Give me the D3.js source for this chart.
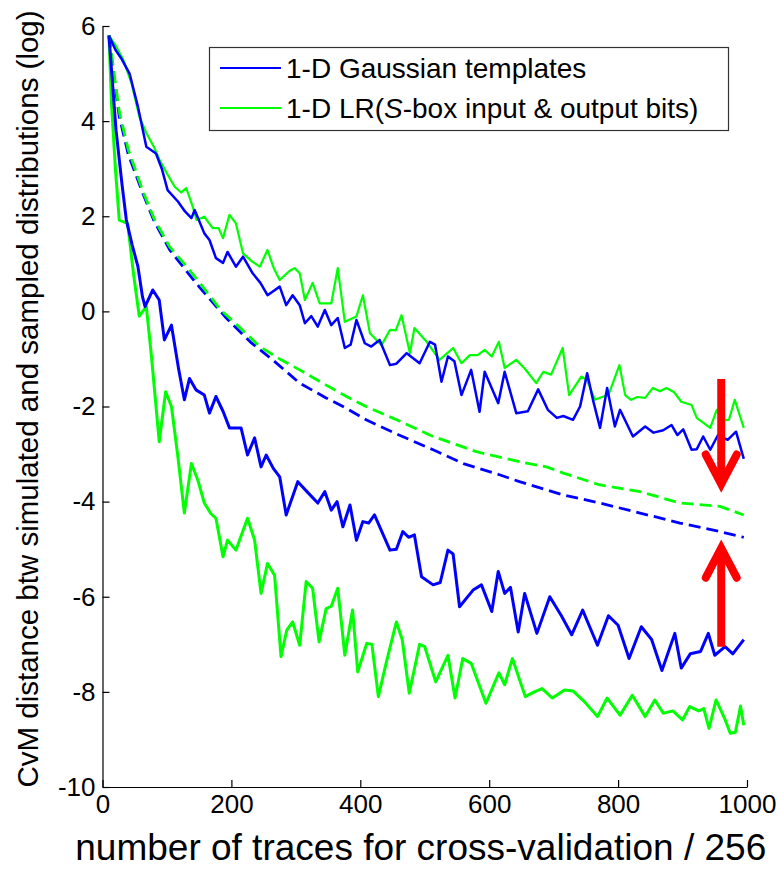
<!DOCTYPE html>
<html>
<head>
<meta charset="utf-8">
<script src="https://cdnjs.cloudflare.com/ajax/libs/d3/7.8.5/d3.min.js"></script>
<style>
   body { margin: 0; background: #fff; }
   svg { display: block; font-family: "Liberation Sans", Arial, Helvetica, sans-serif; }
</style>
</head>
<body>
<svg width="778" height="869"></svg>
<script>
// tick labels
var xTicks = [0, 200, 400, 600, 800, 1000];
var yTicks = [-10, -8, -6, -4, -2, 0, 2, 4, 6];

// [traces/256, log CvM distance]
var gaussUpper = [[10,5.8],[20,5.5],[30,5.3],[42,5.0],[55,4.3],[68,3.46],[83,3.32],[92,3.0],[101,2.55],[117,2.31],[128,2.1],[138,1.96],[143,2.13],[158,1.64],[166,1.5],[176,1.12],[187,1.02],[194,1.25],[207,0.94],[218,1.15],[233,0.8],[245,0.6],[256,0.34],[275,0.52],[285,0.13],[295,0.34],[306,0.13],[314,-0.25],[324,-0.1],[334,-0.32],[345,0.03],[355,-0.29],[365,-0.14],[376,-0.77],[385,-0.7],[394,-0.18],[407,-0.67],[417,-0.74],[430,-0.6],[446,-1.13],[456,-1.1],[472,-0.88],[492,-1.09],[508,-0.64],[516,-0.7],[526,-1.48],[536,-0.95],[546,-1.05],[557,-1.76],[572,-1.23],[585,-2.11],[593,-1.27],[614,-1.93],[624,-1.27],[642,-2.14],[660,-2.1],[676,-1.64],[691,-2.07],[705,-2.24],[715,-2.2],[730,-2.28],[741,-2.0],[752,-1.3],[761,-1.86],[772,-2.45],[783,-1.61],[795,-2.42],[803,-2.07],[823,-2.63],[842,-2.42],[855,-2.55],[870,-2.5],[883,-2.39],[892,-2.6],[901,-2.48],[914,-2.91],[922,-2.9],[932,-2.63],[943,-2.91],[955,-2.6],[970,-2.7],[983,-2.53],[995,-3.1]];
var gaussLower = [[10,5.8],[21,3.81],[30,2.7],[37,1.92],[46,1.4],[55,0.94],[62,0.31],[66,0.1],[78,0.45],[88,0.24],[96,-0.6],[107,-0.29],[118,-1.2],[127,-1.86],[135,-1.41],[145,-1.65],[158,-1.76],[166,-2.14],[176,-1.79],[187,-2.1],[197,-2.45],[215,-2.45],[225,-3.02],[236,-2.66],[246,-3.27],[254,-3.02],[265,-3.3],[275,-3.48],[285,-4.28],[303,-3.58],[318,-3.8],[334,-4.03],[345,-3.79],[355,-4.18],[364,-4.0],[373,-4.53],[384,-4.07],[394,-4.81],[404,-4.42],[413,-4.45],[422,-4.28],[446,-5.02],[456,-5.0],[466,-4.63],[475,-4.75],[484,-4.7],[495,-5.58],[513,-5.75],[524,-5.7],[536,-5.02],[544,-5.1],[554,-6.21],[575,-5.86],[588,-5.75],[604,-6.31],[614,-5.47],[624,-5.93],[633,-5.8],[645,-6.74],[655,-5.93],[674,-6.77],[694,-6.0],[712,-6.4],[728,-6.8],[745,-6.28],[768,-7.02],[785,-6.4],[800,-6.6],[817,-7.3],[836,-6.63],[852,-6.9],[868,-7.55],[888,-6.77],[898,-7.5],[912,-7.2],[928,-7.15],[940,-6.77],[950,-7.23],[966,-7.05],[978,-7.2],[995,-6.9]];
var gaussMean = [[10,5.8],[18,4.9],[26,4.1],[40,3.3],[62,2.5],[80,1.9],[104,1.3],[130,0.85],[151,0.5],[192,-0.14],[230,-0.65],[264,-1.02],[306,-1.51],[347,-1.82],[380,-2.05],[409,-2.28],[460,-2.6],[513,-2.91],[560,-3.2],[617,-3.44],[647,-3.58],[715,-3.86],[772,-4.03],[834,-4.24],[896,-4.45],[958,-4.63],[995,-4.75]];

var lrUpper = [[10,5.8],[20,5.6],[32,5.3],[45,4.8],[57,4.1],[68,3.75],[80,3.45],[88,3.2],[100,2.9],[112,2.62],[122,2.5],[130,2.59],[140,2.2],[146,1.92],[158,1.99],[171,1.75],[180,1.75],[187,1.54],[197,2.03],[207,1.85],[218,1.22],[232,1.05],[244,0.94],[256,1.29],[266,0.9],[275,0.66],[290,0.85],[298,0.91],[306,0.8],[314,0.24],[326,0.6],[337,0.17],[355,0.17],[365,0.91],[376,-0.22],[394,-0.11],[404,0.34],[415,-0.46],[433,-0.71],[446,-0.39],[455,-0.4],[464,-0.08],[477,-0.88],[484,-0.35],[503,-0.64],[523,-1.02],[544,-0.77],[557,-1.09],[570,-0.92],[582,-0.92],[593,-0.81],[604,-0.95],[615,-0.64],[624,-1.19],[642,-1.02],[655,-1.2],[673,-1.51],[684,-1.27],[696,-1.33],[714,-0.77],[724,-1.76],[743,-1.37],[752,-1.45],[764,-1.86],[775,-1.8],[785,-1.76],[802,-1.13],[811,-1.76],[820,-1.86],[830,-1.8],[842,-1.82],[854,-1.61],[865,-1.68],[875,-1.61],[887,-1.7],[898,-1.9],[914,-1.97],[922,-2.24],[943,-2.45],[953,-2.07],[963,-2.28],[972,-2.28],[981,-1.86],[995,-2.45]];
var lrLower = [[10,5.8],[14,4.37],[20,3.0],[26,1.92],[39,1.85],[48,0.8],[57,-0.1],[68,0.1],[76,-0.95],[88,-2.74],[98,-1.69],[107,-2.0],[117,-3.06],[127,-4.24],[138,-3.2],[148,-3.55],[158,-4.03],[168,-4.25],[176,-4.35],[187,-5.16],[194,-4.81],[207,-5.02],[225,-4.35],[236,-4.81],[246,-5.93],[256,-5.3],[267,-5.55],[277,-7.26],[286,-6.7],[295,-6.53],[306,-7.02],[316,-5.68],[326,-5.82],[336,-6.95],[347,-6.25],[355,-6.2],[365,-5.82],[376,-7.23],[388,-6.28],[396,-7.58],[410,-6.98],[418,-7.0],[428,-8.1],[440,-7.4],[456,-6.53],[465,-6.9],[476,-8.03],[492,-7.0],[500,-7.05],[517,-7.79],[536,-7.23],[547,-8.13],[559,-7.3],[572,-7.4],[595,-8.24],[615,-7.6],[624,-7.85],[636,-7.3],[656,-8.1],[670,-8.0],[682,-7.93],[698,-8.13],[717,-7.96],[730,-7.98],[748,-8.21],[768,-8.52],[783,-8.13],[803,-8.49],[822,-8.07],[842,-8.52],[857,-8.17],[870,-8.45],[885,-8.4],[900,-8.59],[911,-8.31],[925,-8.4],[933,-8.35],[941,-8.77],[952,-8.17],[965,-8.55],[974,-8.87],[982,-8.85],[990,-8.3],[995,-8.7]];
var lrMean = [[10,5.8],[18,5.0],[26,4.2],[40,3.4],[62,2.55],[80,1.95],[104,1.36],[130,0.95],[151,0.6],[182,0.05],[210,-0.3],[244,-0.74],[275,-1.0],[306,-1.23],[347,-1.55],[380,-1.8],[409,-2.0],[460,-2.3],[513,-2.63],[580,-2.95],[647,-3.16],[689,-3.27],[715,-3.4],[772,-3.65],[834,-3.79],[896,-4.03],[958,-4.1],[995,-4.28]];

// red arrows: x, from y, to y
var arrowDown = [960, -1.42, -3.63];
var arrowUp = [960, -7.05, -4.98];

var legendLabels = ['1-D Gaussian templates', '1-D LR(S-box input & output bits)'];

(function () {
   var svg = d3.select('svg');
   var margin = {top: 26, right: 31, bottom: 82, left: 102.5};
   var width = +svg.attr('width') - margin.left - margin.right;
   var height = +svg.attr('height') - margin.top - margin.bottom;

   var x = d3.scaleLinear().domain([0, 1000]).range([0, width]);
   var y = d3.scaleLinear().domain([-10, 6]).range([height, 0]);

   var g = svg.append('g').attr('transform', 'translate(' + margin.left + ',' + margin.top + ')');

   var line = d3.line()
      .x(function (d) { return x(d[0]); })
      .y(function (d) { return y(d[1]); });

   var series = [
      {data: gaussMean, color: '#0000ff', width: 2.8, dash: '12,6'},
      {data: lrMean, color: '#00ff00', width: 2.8, dash: '12,6'},
      {data: lrUpper, color: '#00ff00', width: 2.2},
      {data: gaussUpper, color: '#0000ff', width: 2.5},
      {data: lrLower, color: '#00ff00', width: 3},
      {data: gaussLower, color: '#0000ff', width: 3}
   ];

   g.selectAll('.serie').data(series).enter().append('path')
      .attr('class', 'serie')
      .attr('fill', 'none')
      .attr('stroke', function (d) { return d.color; })
      .attr('stroke-width', function (d) { return d.width; })
      .attr('stroke-dasharray', function (d) { return d.dash || null; })
      .attr('stroke-linejoin', 'round')
      .attr('d', function (d) { return line(d.data); });

   // axes, ticks pointing inward, plain hyphen minus like the original
   var plain = function (d) { return String(d); };
   var axisFont = 26;
   var yAxis = g.append('g')
      .call(d3.axisLeft(y).tickValues(yTicks).tickFormat(plain).tickSizeInner(-7).tickSizeOuter(0).tickPadding(7));
   var xAxis = g.append('g')
      .attr('transform', 'translate(0,' + height + ')')
      .call(d3.axisBottom(x).tickValues(xTicks).tickFormat(plain).tickSizeInner(-7).tickSizeOuter(0).tickPadding(8));

   [xAxis, yAxis].forEach(function (a) {
      a.attr('font-family', null).attr('font-size', axisFont);
      a.select('.domain').attr('stroke', '#000').attr('stroke-width', 1.2);
      a.selectAll('.tick line').attr('stroke', '#000').attr('stroke-width', 1.2);
      a.selectAll('.tick text').attr('fill', '#000');
   });

   svg.append('text')
      .attr('x', margin.left + width / 2 - 4)
      .attr('y', 860)
      .attr('text-anchor', 'middle')
      .attr('font-size', 37)
      .text('number of traces for cross-validation / 256');

   svg.append('text')
      .attr('transform', 'translate(38,399) rotate(-90)')
      .attr('text-anchor', 'middle')
      .attr('font-size', 29.5)
      .text('CvM distance btw simulated and sampled distributions (log)');

   // arrows
   var arrows = [arrowDown, arrowUp];
   var headW = 24, headH = 0.62;
   arrows.forEach(function (a) {
      var dir = a[2] < a[1] ? 1 : -1;
      g.append('line')
         .attr('x1', x(a[0])).attr('x2', x(a[0]))
         .attr('y1', y(a[1])).attr('y2', y(a[2]))
         .attr('stroke', '#ff0000').attr('stroke-width', 8);
      g.append('path')
         .attr('fill', 'none')
         .attr('stroke', '#ff0000').attr('stroke-width', 8)
         .attr('stroke-linecap', 'round').attr('stroke-linejoin', 'miter')
         .attr('d', line([[a[0] - headW, a[2] + dir * headH], [a[0], a[2]], [a[0] + headW, a[2] + dir * headH]]));
   });

   // legend
   var legend = svg.append('g').attr('transform', 'translate(209,47)');
   legend.append('rect')
      .attr('x', 0.5).attr('y', 0.5)
      .attr('width', 519).attr('height', 83)
      .attr('fill', '#fff').attr('stroke', '#333').attr('stroke-width', 1.2);

   var colors = ['#0000ff', '#00ff00'];
   var items = legend.selectAll('.legend').data(legendLabels).enter().append('g')
      .attr('class', 'legend')
      .attr('transform', function (d, i) { return 'translate(0,' + (21 + i * 40) + ')'; });

   items.append('line')
      .attr('x1', 11).attr('x2', 72)
      .attr('stroke', function (d, i) { return colors[i]; })
      .attr('stroke-width', 2.2);

   items.append('text')
      .attr('x', 77)
      .attr('y', 10)
      .attr('font-size', 28)
      .each(function (d) {
         var t = d3.select(this);
         var k = d.indexOf('(S');
         if (k < 0) {
            t.text(d);
            return;
         }
         t.append('tspan').text(d.slice(0, k + 1));
         t.append('tspan').attr('font-style', 'italic').text('S');
         t.append('tspan').text(d.slice(k + 2));
      });
})();
</script>
</body>
</html>
